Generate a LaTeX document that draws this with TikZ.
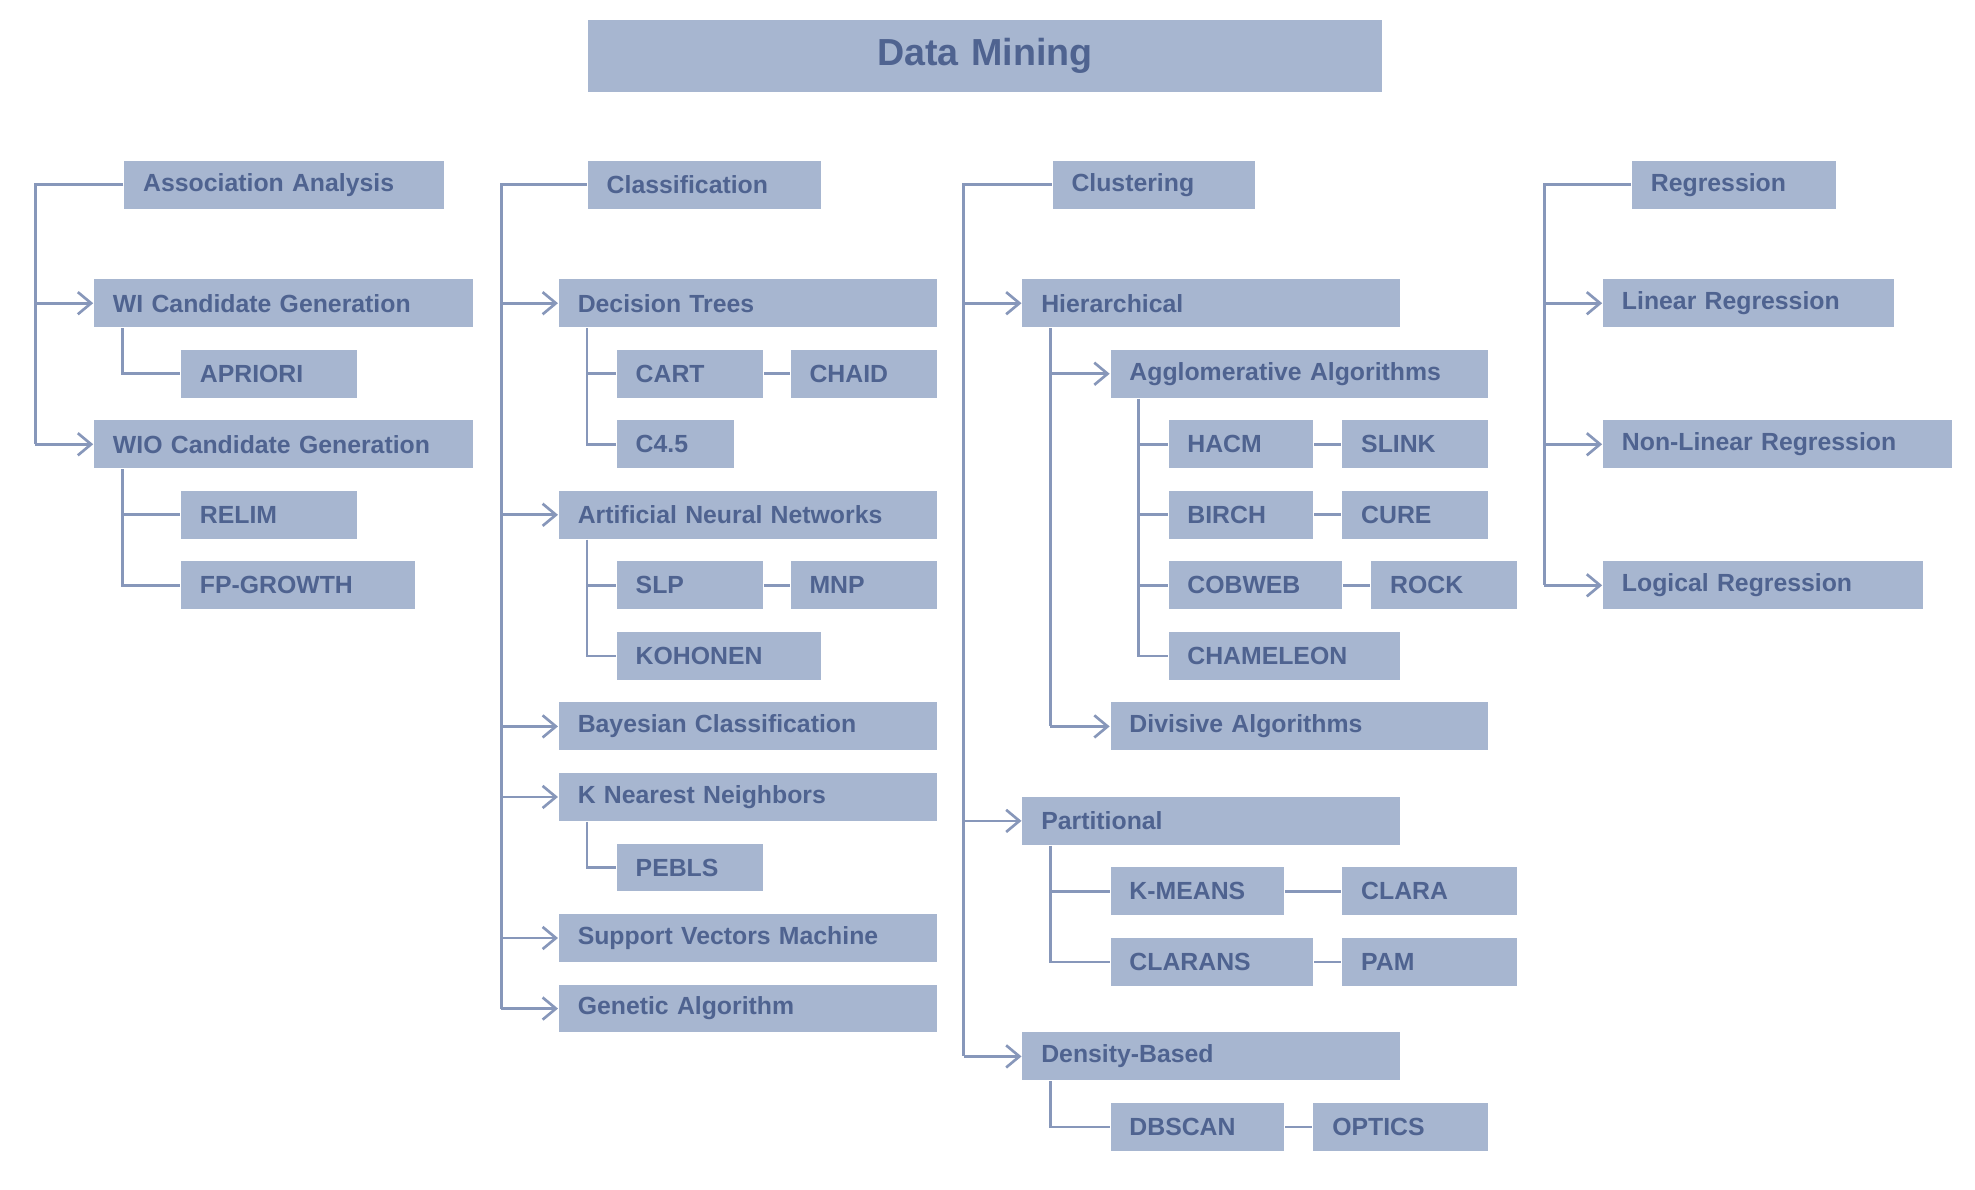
\documentclass[tikz,border=0pt]{standalone}
\usepackage{fontspec}
\setmainfont{Liberation Sans}
\usetikzlibrary{arrows.meta}
\definecolor{boxc}{HTML}{A7B6D0}
\definecolor{txtc}{HTML}{4F6390}
\definecolor{linc}{HTML}{8797BA}
\newcommand\bx[6]{%
  \pgfmathsetmacro\bw{(#4-#2)*0.01}\pgfmathsetmacro\bh{(#5-#3)*0.01}\pgfmathsetmacro\tw{(#4-#2-30)*0.01}%
  \node[box,minimum width=\bw cm,minimum height=\bh cm,text width=\tw cm] (#1) at (#2,#3) {#6};}
\begin{document}
\begin{tikzpicture}[x=0.01cm,y=-0.01cm,
  box/.style={fill=boxc,draw=none,anchor=north west,align=left,inner xsep=0.15cm,inner ysep=0pt,
    font=\fontsize{5.6}{6}\selectfont\bfseries,text=txtc},
  ln/.style={draw=linc,line width=0.6pt},
  ar/.style={ln,-{Straight Barb[length=3pt,width=5pt]}}]
\useasboundingbox[fill=white] (0,0) rectangle (1568,944);
\node[box,minimum width=6cm,minimum height=0.57cm,text width=6cm,align=center,font=\fontsize{8.5}{9}\selectfont\bfseries] (dm) at (466,15) {Data Mining};
% Association
\bx{aa}{98}{127}{352}{165}{Association Analysis}
\bx{wi}{74}{221}{375}{259}{WI Candidate Generation}
\bx{ap}{143}{277}{283}{315}{APRIORI}
\bx{wo}{74}{333}{375}{371}{WIO Candidate Generation}
\bx{re}{143}{389}{283}{427}{RELIM}
\bx{fp}{143}{445}{329}{483}{FP-GROWTH}
\coordinate (ax) at (28,0); \coordinate (ax2) at (97,0);
\draw[ln] (aa.west) -| (ax |- wo.west);
\draw[ar] (ax |- wi.west) -- (wi.west);
\draw[ar] (ax |- wo.west) -- (wo.west);
\draw[ln] (ax2 |- wi.south) |- (ap.west);
\draw[ln] (ax2 |- wo.south) |- (fp.west);
\draw[ln] (ax2 |- re.west) -- (re.west);
% Classification
\bx{cl}{466}{127}{651}{165}{Classification}
\bx{dt}{443}{221}{743}{259}{Decision Trees}
\bx{cart}{489}{277}{605}{315}{CART}
\bx{chaid}{627}{277}{743}{315}{CHAID}
\bx{c45}{489}{333}{582}{371}{C4.5}
\bx{ann}{443}{389}{743}{427}{Artificial Neural Networks}
\bx{slp}{489}{445}{605}{483}{SLP}
\bx{mnp}{627}{445}{743}{483}{MNP}
\bx{koh}{489}{501}{651}{539}{KOHONEN}
\bx{bay}{443}{557}{743}{595}{Bayesian Classification}
\bx{knn}{443}{613}{743}{651}{K Nearest Neighbors}
\bx{peb}{489}{669}{605}{707}{PEBLS}
\bx{svm}{443}{725}{743}{763}{Support Vectors Machine}
\bx{ga}{443}{781}{743}{819}{Genetic Algorithm}
\coordinate (cx) at (398,0); \coordinate (cx2) at (466,0);
\draw[ln] (cl.west) -| (cx |- ga.west);
\foreach \n in {dt,ann,bay,knn,svm,ga} \draw[ar] (cx |- \n.west) -- (\n.west);
\draw[ln] (cx2 |- dt.south) |- (c45.west); \draw[ln] (cx2 |- cart.west) -- (cart.west);
\draw[ln] (cart.east) -- (chaid.west);
\draw[ln] (cx2 |- ann.south) |- (koh.west); \draw[ln] (cx2 |- slp.west) -- (slp.west);
\draw[ln] (slp.east) -- (mnp.west);
\draw[ln] (cx2 |- knn.south) |- (peb.west);
% Clustering
\bx{cu}{835}{127}{996}{165}{Clustering}
\bx{hi}{811}{221}{1111}{259}{Hierarchical}
\bx{ag}{881}{277}{1181}{315}{Agglomerative Algorithms}
\bx{hacm}{927}{333}{1042}{371}{HACM}
\bx{slink}{1065}{333}{1181}{371}{SLINK}
\bx{birch}{927}{389}{1042}{427}{BIRCH}
\bx{cure}{1065}{389}{1181}{427}{CURE}
\bx{cob}{927}{445}{1065}{483}{COBWEB}
\bx{rock}{1088}{445}{1204}{483}{ROCK}
\bx{cham}{927}{501}{1111}{539}{CHAMELEON}
\bx{div}{881}{557}{1181}{595}{Divisive Algorithms}
\bx{pa}{811}{632}{1111}{670}{Partitional}
\bx{km}{881}{688}{1019}{726}{K-MEANS}
\bx{clara}{1065}{688}{1204}{726}{CLARA}
\bx{clarans}{881}{744}{1042}{782}{CLARANS}
\bx{pam}{1065}{744}{1204}{782}{PAM}
\bx{db}{811}{819}{1111}{857}{Density-Based}
\bx{dbs}{881}{875}{1019}{913}{DBSCAN}
\bx{opt}{1042}{875}{1181}{913}{OPTICS}
\coordinate (kx) at (765,0); \coordinate (kx2) at (834,0); \coordinate (kx3) at (904,0);
\draw[ln] (cu.west) -| (kx |- db.west);
\foreach \n in {hi,pa,db} \draw[ar] (kx |- \n.west) -- (\n.west);
\draw[ln] (kx2 |- hi.south) -- (kx2 |- div.west);
\foreach \n in {ag,div} \draw[ar] (kx2 |- \n.west) -- (\n.west);
\draw[ln] (kx3 |- ag.south) |- (cham.west);
\foreach \n in {hacm,birch,cob} \draw[ln] (kx3 |- \n.west) -- (\n.west);
\draw[ln] (hacm.east) -- (slink.west); \draw[ln] (birch.east) -- (cure.west); \draw[ln] (cob.east) -- (rock.west);
\draw[ln] (kx2 |- pa.south) |- (clarans.west); \draw[ln] (kx2 |- km.west) -- (km.west);
\draw[ln] (km.east) -- (clara.west); \draw[ln] (clarans.east) -- (pam.west);
\draw[ln] (kx2 |- db.south) |- (dbs.west); \draw[ln] (dbs.east) -- (opt.west);
% Regression
\bx{rg}{1295}{127}{1457}{165}{Regression}
\bx{lin}{1272}{221}{1503}{259}{Linear Regression}
\bx{nl}{1272}{333}{1549}{371}{Non-Linear Regression}
\bx{lg}{1272}{445}{1526}{483}{Logical Regression}
\coordinate (rx) at (1226,0);
\draw[ln] (rg.west) -| (rx |- lg.west);
\foreach \n in {lin,nl,lg} \draw[ar] (rx |- \n.west) -- (\n.west);
\end{tikzpicture}
\end{document}
